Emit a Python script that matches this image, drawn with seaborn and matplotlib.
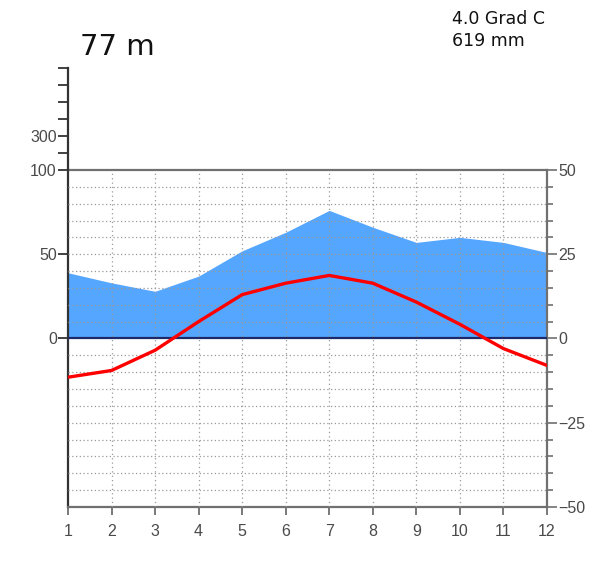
import numpy as np
import pandas as pd
import matplotlib
matplotlib.use("Agg")
import matplotlib.pyplot as plt
import seaborn as sns

# Climate diagram data
months = list(range(1, 13))
precip_mm = [39, 33, 28, 37, 52, 63, 76, 66, 57, 60, 57, 51]
temp_c = [-11.5, -9.5, -3.5, 5.0, 13.0, 16.4, 18.7, 16.4, 10.8, 4.2, -3.0, -8.0]
elevation = "77 m"
mean_temp = "4.0 Grad C"
total_precip = "619 mm"

df = pd.DataFrame({"month": months, "precip": precip_mm, "temp": temp_c})

sns.set_style("white")
plt.rcParams['font.family'] = ['Liberation Sans', 'DejaVu Sans']

GRID = '#9a9a9a'
SPINE = '#707070'
TICKLAB = '#4a4a4a'

fig = plt.figure(figsize=(6.01, 5.65), dpi=100)
ax = fig.add_axes([0.1131, 0.1027, 0.797, 0.5965])
ax_top = fig.add_axes([0.1131, 0.699, 0.797, 0.1805])

# precipitation area (left axis, mm)
ax.fill_between(df["month"], 0, df["precip"], color='#55a6ff', lw=0, zorder=2)
ax.set_xlim(1, 12)
ax.set_ylim(-100, 100)

# dotted grid
for y in range(-90, 100, 10):
    if y != 0:
        ax.axhline(y, color=GRID, lw=0.9, ls=(0, (1, 2)), zorder=3)
for x in months[1:-1]:
    ax.axvline(x, color=GRID, lw=0.9, ls=(0, (1, 2.5)), zorder=3)
ax.axhline(0, color='#1c2a6b', lw=1.6, zorder=4)

ax.set_yticks([0, 50, 100])
ax.set_xticks(months)
ax.tick_params(axis='y', left=True, direction='out', length=7, width=1.3, color='#333333',
               labelsize=11.5, labelcolor=TICKLAB, pad=1)
ax.tick_params(axis='x', bottom=True, direction='out', length=6, width=1.3, color=SPINE,
               labelsize=11.5, labelcolor=TICKLAB, pad=6)
for s in ax.spines.values():
    s.set_color(SPINE)
    s.set_linewidth(1.6)
ax.spines['left'].set_color('#333333')

# temperature line (right axis, deg C)
ax2 = ax.twinx()
sns.lineplot(data=df, x="month", y="temp", color='#ff0000', lw=2.4, ax=ax2, zorder=5)
ax2.set_ylim(-50, 50)
ax2.set_xlim(1, 12)
ax2.set_ylabel("")
ax2.set_xlabel("")
ax.set_xlabel("")
ax2.set_yticks([-50, -25, 0, 25, 50])
ax2.set_yticks(np.arange(-50, 51, 5), minor=True)
ax2.tick_params(axis='y', which='major', right=True, direction='out', length=7, width=1.2,
                color=SPINE, labelsize=11.5, labelcolor=TICKLAB, pad=1)
ax2.tick_params(axis='y', which='minor', right=True, direction='out', length=4, width=1.2, color=SPINE)
for s in ax2.spines.values():
    s.set_visible(False)

# compressed scale above 100 mm
ax_top.set_xlim(1, 12)
ax_top.set_ylim(100, 700)
ax_top.set_yticks(range(200, 701, 100))
ax_top.set_yticklabels(['' if v != 300 else '300' for v in range(200, 701, 100)])
ax_top.set_xticks([])
ax_top.patch.set_alpha(0)
for k in ['top', 'right', 'bottom']:
    ax_top.spines[k].set_visible(False)
ax_top.spines['left'].set_color('#333333')
ax_top.spines['left'].set_linewidth(1.6)
ax_top.tick_params(axis='y', left=True, direction='out', length=7, width=1.3, color='#333333',
                   labelsize=11.5, labelcolor=TICKLAB, pad=1)

fig.text(0.133, 0.903, elevation, fontsize=21, color='#111111', va='baseline',
         family='DejaVu Sans')
fig.text(0.752, 0.957, mean_temp, fontsize=12.5, color='#111111', va='baseline',
         family='DejaVu Sans')
fig.text(0.752, 0.918, total_precip, fontsize=12.5, color='#111111', va='baseline',
         family='DejaVu Sans')

fig.savefig("out.png", dpi=100, facecolor='white')
